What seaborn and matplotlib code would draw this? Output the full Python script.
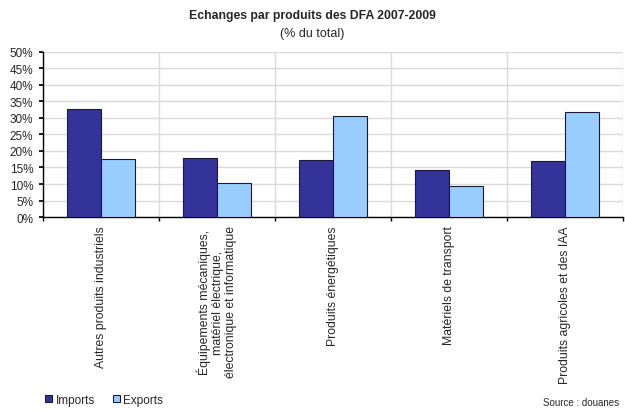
import matplotlib
matplotlib.use("Agg")
import matplotlib.pyplot as plt
import seaborn as sns
import pandas as pd
import numpy as np
from matplotlib.ticker import PercentFormatter, MultipleLocator, FixedLocator

categories = [
    "Autres produits industriels",
    "Équipements mécaniques,\nmatériel électrique,\nélectronique et informatique",
    "Produits énergétiques",
    "Matériels de transport",
    "Produits agricoles et des IAA",
]
imports = [32.8, 17.8, 17.4, 14.1, 17.1]
exports = [17.6, 10.3, 30.5, 9.3, 31.7]
series = ["Imports", "Exports"]
colors = ["#333399", "#99CCFF"]

df = pd.DataFrame({
    "cat": categories * 2,
    "serie": [series[0]] * 5 + [series[1]] * 5,
    "val": imports + exports,
})

sns.set_theme(style="white")
plt.rcParams["font.family"] = ["Liberation Sans", "DejaVu Sans"]

fig = plt.figure(figsize=(6.25, 4.1), dpi=100)
ax = fig.add_axes([0.0688, 0.468, 0.928, 0.4035])

sns.barplot(data=df, x="cat", y="val", hue="serie", palette=colors, saturation=1,
            width=0.58, gap=0, edgecolor="#1a1a33", linewidth=0.8,
            ax=ax, legend=True, zorder=3)

ax.set_ylim(0, 50)
ax.set_xlim(-0.5, 4.5)
ax.yaxis.set_major_locator(MultipleLocator(5))
ax.yaxis.set_major_formatter(PercentFormatter(decimals=0))
ax.set_xlabel("")
ax.set_ylabel("")

ax.xaxis.set_minor_locator(FixedLocator(np.arange(-0.5, 5, 1)))
ax.grid(axis="y", which="major", color="#d9d9d9", linewidth=1, zorder=0)
ax.grid(axis="x", which="minor", color="#d9d9d9", linewidth=1, zorder=0)
ax.grid(axis="x", which="major", visible=False)
ax.set_axisbelow(True)

ax.tick_params(axis="x", which="major", length=0, pad=6)
ax.tick_params(axis="x", which="minor", length=3, color="black", direction="out", bottom=True)
ax.tick_params(axis="y", which="major", length=3, color="black", direction="out", left=True,
               labelsize=8.5, pad=4)
ax.set_xticks(range(5))
ax.set_xticklabels(categories, rotation=90, fontsize=8.8, va="top", ha="center",
                   multialignment="center", linespacing=1.1)

for s in ["top", "right"]:
    ax.spines[s].set_visible(False)
ax.spines["left"].set_color("black")
ax.spines["bottom"].set_color("black")
ax.spines["left"].set_linewidth(1)
ax.spines["bottom"].set_linewidth(1)

handles, labels = ax.get_legend_handles_labels()
ax.get_legend().remove()
fig.legend(handles, labels, loc="lower left", bbox_to_anchor=(0.055, -0.018),
           ncol=2, frameon=False, fontsize=8.5, handlelength=0.6, handleheight=0.6,
           handletextpad=0.3, columnspacing=1.5)

fig.text(0.5, 0.96, "Echanges par produits des DFA 2007-2009", ha="center", va="center",
         fontsize=8.8, fontweight="bold")
fig.text(0.5, 0.918, "(% du total)", ha="center", va="center", fontsize=9)
fig.text(0.99, 0.005, "Source : douanes", ha="right", va="bottom", fontsize=7)

fig.savefig("out.png", dpi=100)
